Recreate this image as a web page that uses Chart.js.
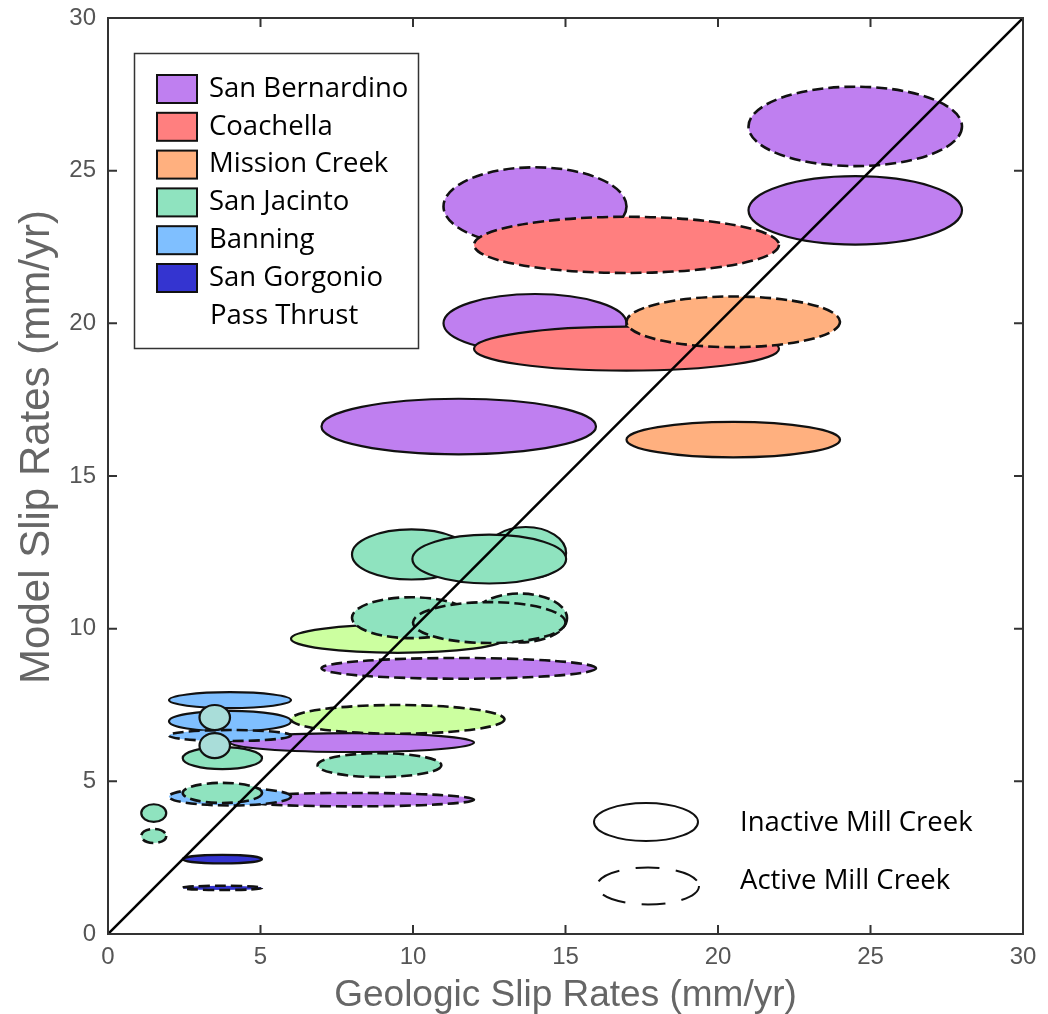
<!DOCTYPE html>
<html>
<head>
<meta charset="utf-8">
<script src="https://cdn.jsdelivr.net/npm/chart.js@4/dist/chart.umd.min.js"></script>
<style>
  html, body { margin: 0; padding: 0; background: #fff; }
  #wrap { width: 1048px; height: 1014px; }
</style>
</head>
<body>
<div id="wrap"><canvas id="slipChart" width="1048" height="1014"></canvas></div>
<script>
/* ================== DATA ================== */
// row: [geologic rate, geologic half-range, model rate, model half-range, Mill Creek active]
const sanBernardino = [
  [24.5, 3.5, 26.45, 1.30, true],
  [24.5, 3.5, 23.70, 1.12, false],
  [14.0, 3.0, 23.83, 1.28, true],
  [14.0, 3.0, 20.00, 0.96, false],
  [11.5, 4.5, 16.62, 0.91, false],
  [11.5, 4.5, 8.70, 0.34, true],
  [8.0, 4.0, 6.27, 0.31, false],
  [8.0, 4.0, 4.40, 0.22, true]
];
const coachella = [
  [17.0, 5.0, 22.57, 0.92, true],
  [17.0, 5.0, 19.17, 0.72, false]
];
const missionCreek = [
  [20.5, 3.5, 20.05, 0.83, true],
  [20.5, 3.5, 16.19, 0.58, false]
];
const limeFault = [
  [9.5, 3.5, 9.67, 0.46, false],
  [9.5, 3.5, 7.03, 0.47, true]
];
const banning = [
  [4.0, 2.0, 7.66, 0.26, false],
  [4.0, 2.0, 6.97, 0.34, false],
  [4.0, 2.0, 6.50, 0.18, true],
  [4.0, 2.0, 4.50, 0.29, true]
];
const sanJacinto = [
  [9.95, 1.95, 12.43, 0.82, false],
  [13.7, 1.32, 12.48, 0.85, false],
  [12.5, 2.52, 12.28, 0.80, false],
  [9.95, 1.95, 10.36, 0.67, true],
  [13.5, 1.55, 10.35, 0.80, true],
  [12.5, 2.50, 10.20, 0.67, true],
  [8.9, 2.03, 5.53, 0.39, true],
  [3.75, 1.3, 5.76, 0.36, false],
  [3.75, 1.3, 4.62, 0.33, true],
  [1.5, 0.41, 3.96, 0.29, false],
  [1.5, 0.41, 3.21, 0.23, true]
];
const paleCircles = [
  [3.5, 0.5, 7.09, 0.41, false],
  [3.5, 0.5, 6.17, 0.41, false]
];
const sanGorgonio = [
  [3.75, 1.3, 2.45, 0.14, false],
  [3.75, 1.3, 1.51, 0.07, true]
];
const oneToOne = [0, 30];

const legendNames = ["San Bernardino", "Coachella", "Mission Creek", "San Jacinto", "Banning", "San Gorgonio"];
const colors = {
  "San Bernardino": "#bf7ff0",
  "Coachella": "#ff7f7f",
  "Mission Creek": "#ffb07f",
  "San Jacinto": "#8fe3bf",
  "Banning": "#7fbfff",
  "San Gorgonio": "#3434d0",
  lime: "#ccffa0",
  pale: "#a9ddd9"
};

/* ================== DATASETS ================== */
function toPoints(rows) {
  return rows.map(r => ({ x: r[0], dx: r[1], y: r[2], dy: r[3], active: r[4] }));
}

function ellipseSet(label, rows, color) {
  return {
    label: label,
    ellipse: true,
    data: toPoints(rows),
    backgroundColor: color,
    pointRadius: 0,
    pointHoverRadius: 0
  };
}

// draw order matters: later ones cover earlier ones
const datasets = [
  ellipseSet("San Bernardino", sanBernardino, colors["San Bernardino"]),
  ellipseSet("Coachella", coachella, colors["Coachella"]),
  ellipseSet("Mission Creek", missionCreek, colors["Mission Creek"]),
  ellipseSet("lime", limeFault, colors.lime),
  ellipseSet("Banning", banning, colors["Banning"]),
  ellipseSet("San Jacinto", sanJacinto, colors["San Jacinto"]),
  ellipseSet("pale", paleCircles, colors.pale),
  ellipseSet("San Gorgonio", sanGorgonio, colors["San Gorgonio"]),
  {
    type: "line",
    label: "1:1",
    data: oneToOne.map(v => ({ x: v, y: v })),
    borderColor: "#000",
    borderWidth: 2.5,
    pointRadius: 0
  }
];

/* ================== PLUGINS ================== */
const ellipsePlugin = {
  id: "ellipses",
  beforeDatasetsDraw(chart) {
    const { ctx, chartArea, scales: { x, y } } = chart;
    ctx.save();
    ctx.beginPath();
    ctx.rect(chartArea.left, chartArea.top, chartArea.width, chartArea.height);
    ctx.clip();
    chart.data.datasets.forEach(ds => {
      if (!ds.ellipse) return;
      ds.data.forEach(p => {
        const cx = x.getPixelForValue(p.x);
        const cy = y.getPixelForValue(p.y);
        const rx = Math.abs(x.getPixelForValue(p.x + p.dx) - cx);
        const ry = Math.abs(y.getPixelForValue(p.y + p.dy) - cy);
        ctx.beginPath();
        ctx.ellipse(cx, cy, rx, ry, 0, 0, Math.PI * 2);
        ctx.fillStyle = ds.backgroundColor;
        ctx.fill();
        ctx.setLineDash(p.active ? [11, 5] : []);
        ctx.lineWidth = p.active ? 2.6 : 2.2;
        ctx.strokeStyle = "#111";
        ctx.stroke();
      });
    });
    ctx.restore();
  }
};

const framePlugin = {
  id: "frame",
  afterDraw(chart) {
    const { ctx, chartArea: a, scales: { x, y } } = chart;
    ctx.save();
    ctx.strokeStyle = "#333";
    ctx.lineWidth = 2;
    ctx.setLineDash([]);
    ctx.strokeRect(a.left, a.top, a.width, a.height);
    const len = 9;
    ctx.beginPath();
    x.ticks.forEach(t => {
      const px = x.getPixelForValue(t.value);
      ctx.moveTo(px, a.bottom); ctx.lineTo(px, a.bottom - len);
      ctx.moveTo(px, a.top); ctx.lineTo(px, a.top + len);
    });
    y.ticks.forEach(t => {
      const py = y.getPixelForValue(t.value);
      ctx.moveTo(a.left, py); ctx.lineTo(a.left + len, py);
      ctx.moveTo(a.right, py); ctx.lineTo(a.right - len, py);
    });
    ctx.stroke();

    // y axis title, sits a little above the middle of the axis
    ctx.translate(37, 447);
    ctx.rotate(-Math.PI / 2);
    ctx.font = "42px 'Liberation Sans', Arial, sans-serif";
    ctx.fillStyle = "#666";
    ctx.textAlign = "center";
    ctx.textBaseline = "middle";
    ctx.fillText("Model Slip Rates (mm/yr)", 0, 0);
    ctx.restore();
  }
};

const legendPlugin = {
  id: "faultLegend",
  afterDraw(chart) {
    const ctx = chart.ctx;
    ctx.save();
    ctx.setLineDash([]);
    // fault colour box
    ctx.fillStyle = "#fff";
    ctx.fillRect(134, 53, 284, 295);
    ctx.strokeStyle = "#333";
    ctx.lineWidth = 1.5;
    ctx.strokeRect(134.5, 53.5, 284, 295);
    ctx.font = "27.5px 'Open Sans', sans-serif";
    ctx.textBaseline = "middle";
    legendNames.forEach((name, i) => {
      const cy = 89 + i * 37.8;
      ctx.fillStyle = colors[name];
      ctx.fillRect(157, cy - 14, 40, 28);
      ctx.strokeStyle = "#111";
      ctx.lineWidth = 2;
      ctx.strokeRect(157, cy - 14, 40, 28);
      ctx.fillStyle = "#000";
      ctx.fillText(name, 209, cy);
    });
    ctx.fillText("Pass Thrust", 210, 89 + 6 * 37.8);

    // line style key
    ctx.strokeStyle = "#111";
    ctx.lineWidth = 2;
    ctx.beginPath();
    ctx.ellipse(646, 822, 52, 19, 0, 0, Math.PI * 2);
    ctx.stroke();
    ctx.setLineDash([24, 16]);
    ctx.beginPath();
    ctx.ellipse(648, 886, 51, 18.5, 0, 0, Math.PI * 2);
    ctx.stroke();
    ctx.setLineDash([]);
    ctx.fillText("Inactive Mill Creek", 740, 823);
    ctx.fillText("Active Mill Creek", 740, 881);
    ctx.restore();
  }
};

/* ================== CHART ================== */
Chart.defaults.font.family = "'Liberation Sans', Arial, sans-serif";

new Chart(document.getElementById("slipChart"), {
  type: "scatter",
  data: { datasets: datasets },
  options: {
    responsive: false,
    animation: false,
    devicePixelRatio: 1,
    layout: { padding: { top: 18, right: 25, left: 0, bottom: 0 } },
    plugins: {
      legend: { display: false },
      tooltip: { enabled: false }
    },
    events: [],
    scales: {
      x: {
        type: "linear",
        min: 0,
        max: 30,
        grid: { display: false, drawTicks: false },
        border: { display: false },
        ticks: { stepSize: 5, color: "#555", font: { size: 24 }, padding: 9 },
        title: {
          display: true,
          text: "Geologic Slip Rates (mm/yr)",
          color: "#666",
          font: { size: 37, lineHeight: 1.0 },
          padding: { top: 0, bottom: 0 }
        },
        afterFit: s => {
          s.height = 80;
          s.paddingLeft = 0;
          s.paddingRight = 0;
        }
      },
      y: {
        type: "linear",
        min: 0,
        max: 30,
        grid: { display: false, drawTicks: false },
        border: { display: false },
        ticks: { stepSize: 5, color: "#555", font: { size: 24 }, padding: 12 },
        afterFit: s => {
          s.width = 108;
          s.paddingTop = 0;
          s.paddingBottom = 0;
        }
      }
    }
  },
  plugins: [ellipsePlugin, framePlugin, legendPlugin]
});
</script>
</body>
</html>
